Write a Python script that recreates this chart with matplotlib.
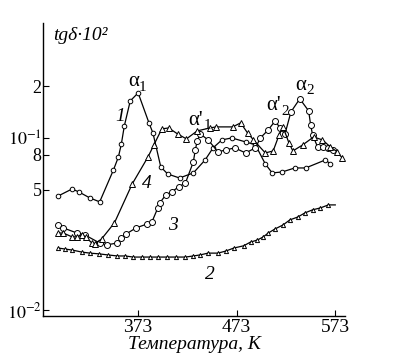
import matplotlib
matplotlib.use("Agg")
import matplotlib.pyplot as plt

plt.rcParams['font.family'] = ['Liberation Serif', 'DejaVu Serif']
plt.rcParams['mathtext.fontset'] = 'stix'

# curve 1 (small circles)
t1 = [292, 306, 313, 324, 334, 348, 353, 356, 359, 365, 373, 384, 388, 396, 403, 415,
      429, 441, 449, 458, 468, 482, 492, 502, 509, 519, 532, 543, 563, 568]
v1 = [0.046, 0.0505, 0.0485, 0.0448, 0.0425, 0.0652, 0.0775, 0.0923, 0.1174, 0.164, 0.1827,
      0.1223, 0.1069, 0.0678, 0.0617, 0.0585, 0.0626, 0.0745, 0.0875, 0.0974, 0.1, 0.0948,
      0.0911, 0.0706, 0.0626, 0.0634, 0.0669, 0.0669, 0.0745, 0.0706]

# curve 2 (small triangles)
t2 = [292, 299, 306, 316, 324, 333, 342, 352, 360, 368, 377, 385, 393, 402, 411, 421, 429,
      436, 444, 454, 462, 470, 480, 487, 494, 500, 505, 512, 520, 527, 535, 542, 550, 558, 566, 573]
v2 = [0.0229, 0.0226, 0.0223, 0.0217, 0.0214, 0.0212, 0.0209, 0.0206, 0.0206, 0.0203, 0.0203,
      0.0203, 0.0203, 0.0203, 0.0203, 0.0203, 0.0206, 0.0209, 0.0214, 0.0214, 0.0220, 0.0229,
      0.0236, 0.0248, 0.0255, 0.0266, 0.0280, 0.0296, 0.0312, 0.0334, 0.0347, 0.0366, 0.0382,
      0.0392, 0.0408, 0.0408]

# curve 3 (large circles)
t3 = [292, 297, 311, 319, 334, 341, 352, 356, 361, 371, 382, 387, 393, 395, 401, 407, 414,
      421, 429, 431, 433, 436, 444, 454, 462, 471, 482, 492, 497, 505, 512, 517, 522, 528,
      537, 546, 548, 550, 555, 561, 566, 571]
v3 = [0.0312, 0.030, 0.028, 0.0273, 0.0245, 0.0239, 0.0245, 0.0262, 0.0277, 0.030, 0.0316,
      0.0325, 0.0392, 0.0419, 0.0466, 0.0485, 0.0519, 0.0547, 0.0725, 0.0852, 0.0961, 0.1055,
      0.0974, 0.0829, 0.0852, 0.0875, 0.0818, 0.0875, 0.1, 0.1113, 0.1256, 0.1143, 0.1055,
      0.1416, 0.1687, 0.1436, 0.119, 0.1041, 0.0887, 0.0887, 0.0875, 0.0852]

# curve 4 (large triangles)
t4 = [292, 297, 306, 311, 316, 320, 326, 329, 336, 349, 367, 383, 389, 397, 404, 413, 422,
      433, 446, 452, 469, 477, 484, 490, 502, 510, 516, 520, 526, 530, 540, 551, 560, 568, 575, 580]
v4 = [0.028, 0.028, 0.0266, 0.0266, 0.0273, 0.0266, 0.0245, 0.0242, 0.0259, 0.0321, 0.054,
      0.0775, 0.0911, 0.1128, 0.1143, 0.1055, 0.0987, 0.1099, 0.1143, 0.1159, 0.1159, 0.1223,
      0.1069, 0.0974, 0.0818, 0.084, 0.1041, 0.1159, 0.0935, 0.084, 0.0911, 0.1013, 0.0974,
      0.0887, 0.0829, 0.0765]

xticks = [373, 473, 573]
yticks = [0.01, 0.05, 0.08, 0.1, 0.2]
ylabels = ['$10^{-2}$', '5', '8', '$10^{-1}$', '2']

fig = plt.figure(figsize=(3.99, 3.64), dpi=100)
ax = fig.add_axes([0.108, 0.132, 0.757, 0.805])

mk = dict(color='black', lw=0.9, markerfacecolor='white', markeredgecolor='black', mew=0.7)
ax.plot(t1, v1, marker='o', ms=3.3, **mk)
ax.plot(t2, v2, marker='^', ms=3.0, markevery=list(range(len(t2) - 1)), **mk)
ax.plot(t3, v3, marker='o', ms=4.3, **mk)
ax.plot(t4, v4, marker='^', ms=4.3, **mk)

ax.set_yscale('log')
ax.set_xlim(276.6, 583)
ax.set_ylim(0.00923, 0.466)
ax.set_xticks(xticks)
ax.set_xticklabels([str(t) for t in xticks])
ax.set_yticks(yticks)
ax.set_yticklabels(ylabels)
ax.minorticks_off()
ax.tick_params(direction='in', length=4, width=0.8, labelsize=14, pad=2)
ax.tick_params(axis='y', labelsize=13, pad=1)
for s in ['top', 'right']:
    ax.spines[s].set_visible(False)
ax.spines['left'].set_linewidth(1.0)
ax.spines['bottom'].set_linewidth(1.0)

ax.set_xlabel('Температура, К', fontsize=14, style='italic', labelpad=0)
ax.text(0.033, 0.956, 'tgδ·10²', transform=ax.transAxes, fontsize=14, style='italic',
        va='center', ha='left')


def peak_label(x, y, base, sub):
    ax.annotate(base, (x, y), ha='right', va='center', fontsize=15)
    ax.annotate(sub, (x, y), xytext=(0, -4), textcoords='offset points',
                ha='left', va='center', fontsize=11)


peak_label(374, 0.212, 'α', '1')
peak_label(439, 0.127, "α'", '1')
peak_label(518, 0.1535, "α'", '2')
peak_label(543.5, 0.203, 'α', '2')

ax.text(354.7, 0.1324, '1', fontsize=14, style='italic', ha='center', va='center')
ax.text(382, 0.054, '4', fontsize=14, style='italic', ha='center', va='center')
ax.text(408.5, 0.0308, '3', fontsize=14, style='italic', ha='center', va='center')
ax.text(446, 0.016, '2', fontsize=14, style='italic', ha='center', va='center')

fig.savefig('out.png', dpi=100)
